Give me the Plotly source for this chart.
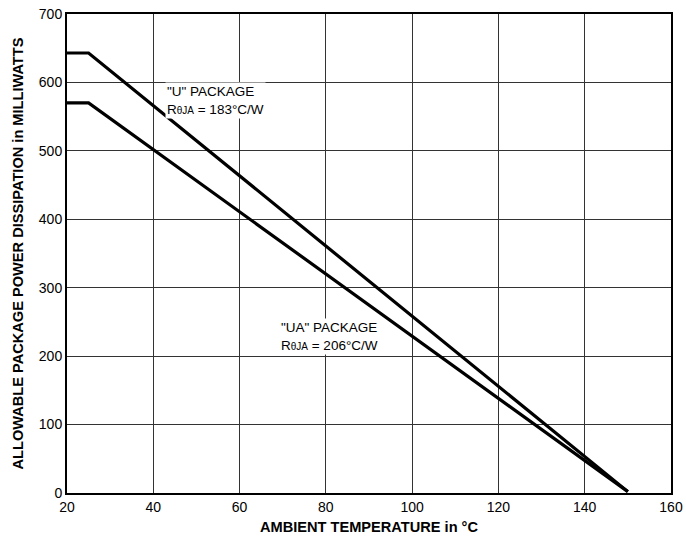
import plotly.graph_objects as go

temp_u = [20, 25, 150]
power_u = [643, 643, 2]
temp_ua = [20, 25, 150]
power_ua = [570, 570, 2]

x_ticks = [20, 40, 60, 80, 100, 120, 140, 160]
y_ticks = [0, 100, 200, 300, 400, 500, 600, 700]

fig = go.Figure()
for t, p in [(temp_u, power_u), (temp_ua, power_ua)]:
    fig.add_trace(go.Scatter(x=t, y=p, mode="lines",
                             line=dict(color="black", width=3.2),
                             showlegend=False, hoverinfo="skip"))

font = "Liberation Sans, Arial, sans-serif"
fig.add_annotation(x=42.6, y=574, xref="x", yref="y", xanchor="left", yanchor="middle",
                   text='"U" PACKAGE<br>R<span style="font-size:10px">θJA</span> = 183°C/W',
                   showarrow=False, align="left", bgcolor="white", borderpad=1,
                   font=dict(family=font, size=13.5, color="black"))
fig.add_annotation(x=69.2, y=229, xref="x", yref="y", xanchor="left", yanchor="middle",
                   text='"UA" PACKAGE<br>R<span style="font-size:10px">θJA</span> = 206°C/W',
                   showarrow=False, align="left", bgcolor="white", borderpad=1,
                   font=dict(family=font, size=13.5, color="black"))

fig.update_layout(
    width=686, height=536,
    margin=dict(l=67, r=15, t=14, b=43),
    plot_bgcolor="white", paper_bgcolor="white",
    font=dict(family=font, color="black", size=14),
)
fig.update_xaxes(range=[20, 160], tickvals=x_ticks, ticks="", automargin=False,
                 tickfont=dict(size=14),
                 showgrid=True, gridcolor="#333333", gridwidth=1.1,
                 showline=True, linecolor="black", linewidth=2, mirror=True,
                 zeroline=False,
                 title=dict(text="<b>AMBIENT TEMPERATURE in °C</b>", standoff=8,
                            font=dict(size=14.6, family=font)))
fig.update_yaxes(range=[0, 700], tickvals=y_ticks, ticks="", automargin=False,
                 tickfont=dict(size=14),
                 showgrid=True, gridcolor="#333333", gridwidth=1.1,
                 showline=True, linecolor="black", linewidth=2, mirror=True,
                 zeroline=False,
                 title=dict(text="<b>ALLOWABLE PACKAGE POWER DISSIPATION in MILLIWATTS</b>",
                            standoff=12, font=dict(size=14.6, family=font)))

fig.write_html("out.html", config={"displayModeBar": False},
               post_script="document.body.style.margin='0';document.body.style.overflow='hidden';")
